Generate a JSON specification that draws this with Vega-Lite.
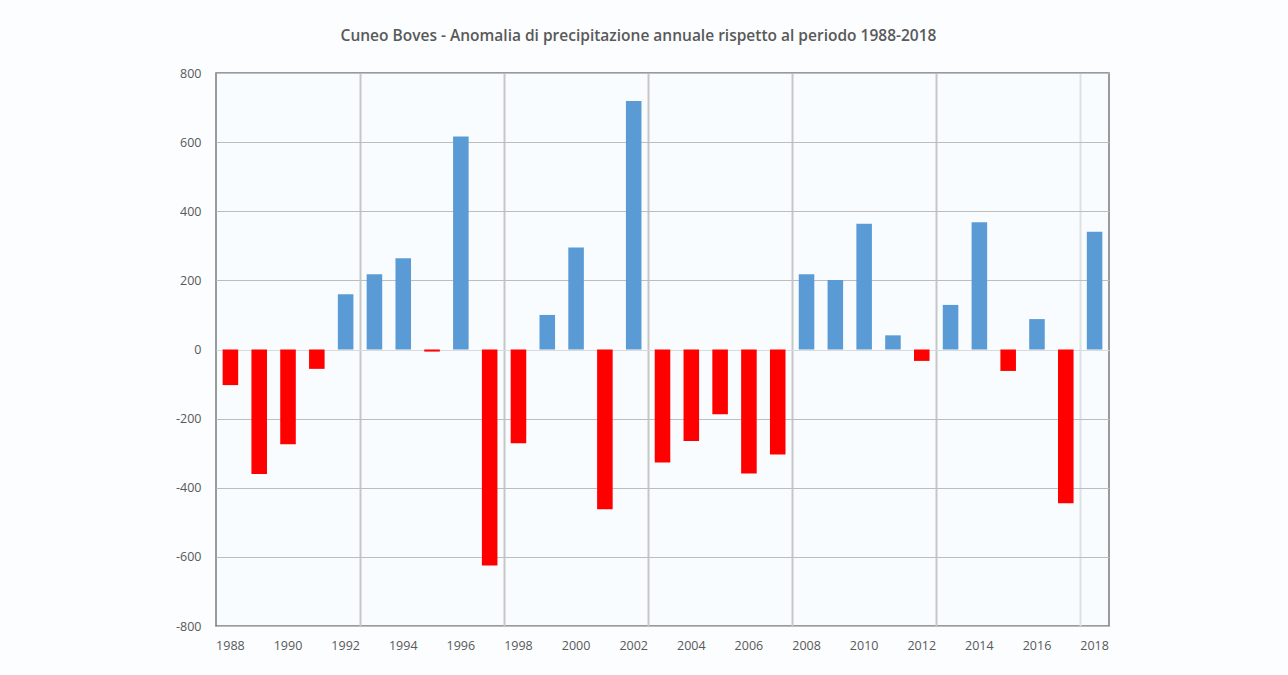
{
  "$schema": "https://vega.github.io/schema/vega-lite/v6.json",
  "width": 893,
  "height": 553,
  "autosize": {"type": "none"},
  "padding": {"left": 216, "top": 73, "right": 179, "bottom": 49},
  "background": "#fbfdfe",
  "title": {
    "text": "Cuneo Boves - Anomalia di precipitazione annuale rispetto al periodo 1988-2018",
    "anchor": "middle",
    "frame": "group",
    "dx": -24,
    "offset": 23,
    "font": "Open Sans",
    "fontSize": 15.5,
    "fontWeight": 600,
    "color": "#595959"
  },
  "data": {
    "values": [
      {"anno": 1988, "anomalia": -103},
      {"anno": 1989, "anomalia": -360},
      {"anno": 1990, "anomalia": -274},
      {"anno": 1991, "anomalia": -56},
      {"anno": 1992, "anomalia": 160},
      {"anno": 1993, "anomalia": 218},
      {"anno": 1994, "anomalia": 264},
      {"anno": 1995, "anomalia": -6},
      {"anno": 1996, "anomalia": 616},
      {"anno": 1997, "anomalia": -625},
      {"anno": 1998, "anomalia": -271},
      {"anno": 1999, "anomalia": 100},
      {"anno": 2000, "anomalia": 295},
      {"anno": 2001, "anomalia": -462},
      {"anno": 2002, "anomalia": 719},
      {"anno": 2003, "anomalia": -327},
      {"anno": 2004, "anomalia": -265},
      {"anno": 2005, "anomalia": -187},
      {"anno": 2006, "anomalia": -359},
      {"anno": 2007, "anomalia": -304},
      {"anno": 2008, "anomalia": 218},
      {"anno": 2009, "anomalia": 201},
      {"anno": 2010, "anomalia": 364},
      {"anno": 2011, "anomalia": 41},
      {"anno": 2012, "anomalia": -33},
      {"anno": 2013, "anomalia": 129},
      {"anno": 2014, "anomalia": 368},
      {"anno": 2015, "anomalia": -62},
      {"anno": 2016, "anomalia": 88},
      {"anno": 2017, "anomalia": -445},
      {"anno": 2018, "anomalia": 341}
    ]
  },
  "layer": [
    {
      "mark": {"type": "bar", "opacity": 0, "width": {"band": 0.54}},
      "encoding": {
        "x": {
          "field": "anno",
          "type": "ordinal",
          "scale": {"paddingInner": 0, "paddingOuter": 0},
          "axis": {
            "orient": "top",
            "values": [1993, 1998, 2003, 2008, 2013, 2018],
            "bandPosition": 0,
            "grid": true,
            "gridWidth": 2,
            "gridColor": {"condition": {"test": "datum.value === 2018", "value": "#dde1e4"}, "value": "#c6c6c6"},
            "labels": false,
            "ticks": false,
            "domain": false,
            "title": null
          }
        }
      }
    },
    {
      "mark": {"type": "bar", "width": {"band": 0.54}},
      "encoding": {
        "x": {
          "field": "anno",
          "type": "ordinal",
          "axis": {
            "orient": "bottom",
            "values": [1988, 1990, 1992, 1994, 1996, 1998, 2000, 2002, 2004, 2006, 2008, 2010, 2012, 2014, 2016, 2018],
            "labelAngle": 0,
            "grid": false,
            "ticks": false,
            "tickSize": 0,
            "domain": false,
            "labelPadding": 13,
            "labelFont": "Open Sans",
            "labelFontSize": 12.5,
            "labelColor": "#595959",
            "title": null
          }
        },
        "y": {
          "field": "anomalia",
          "type": "quantitative",
          "scale": {"domain": [-800, 800], "nice": false},
          "axis": {
            "values": [-800, -600, -400, -200, 0, 200, 400, 600, 800],
            "labelExpr": "datum.value < 0 ? '-' + abs(datum.value) : '' + datum.value",
            "grid": true,
            "gridColor": {"condition": {"test": "datum.value === 0", "value": "#dadada"}, "value": "#bdbdbd"},
            "domain": false,
            "ticks": false,
            "tickSize": 0,
            "labelPadding": 15,
            "labelFont": "Open Sans",
            "labelFontSize": 12.5,
            "labelColor": "#595959",
            "title": null
          }
        },
        "color": {
          "condition": {"test": "datum.anomalia >= 0", "value": "#5b9bd5"},
          "value": "#ff0000"
        }
      }
    }
  ],
  "resolve": {"axis": {"x": "independent"}},
  "config": {
    "view": {"stroke": "#7a7a7a", "strokeWidth": 1.5, "fill": "#f9fcfe"}
  }
}
